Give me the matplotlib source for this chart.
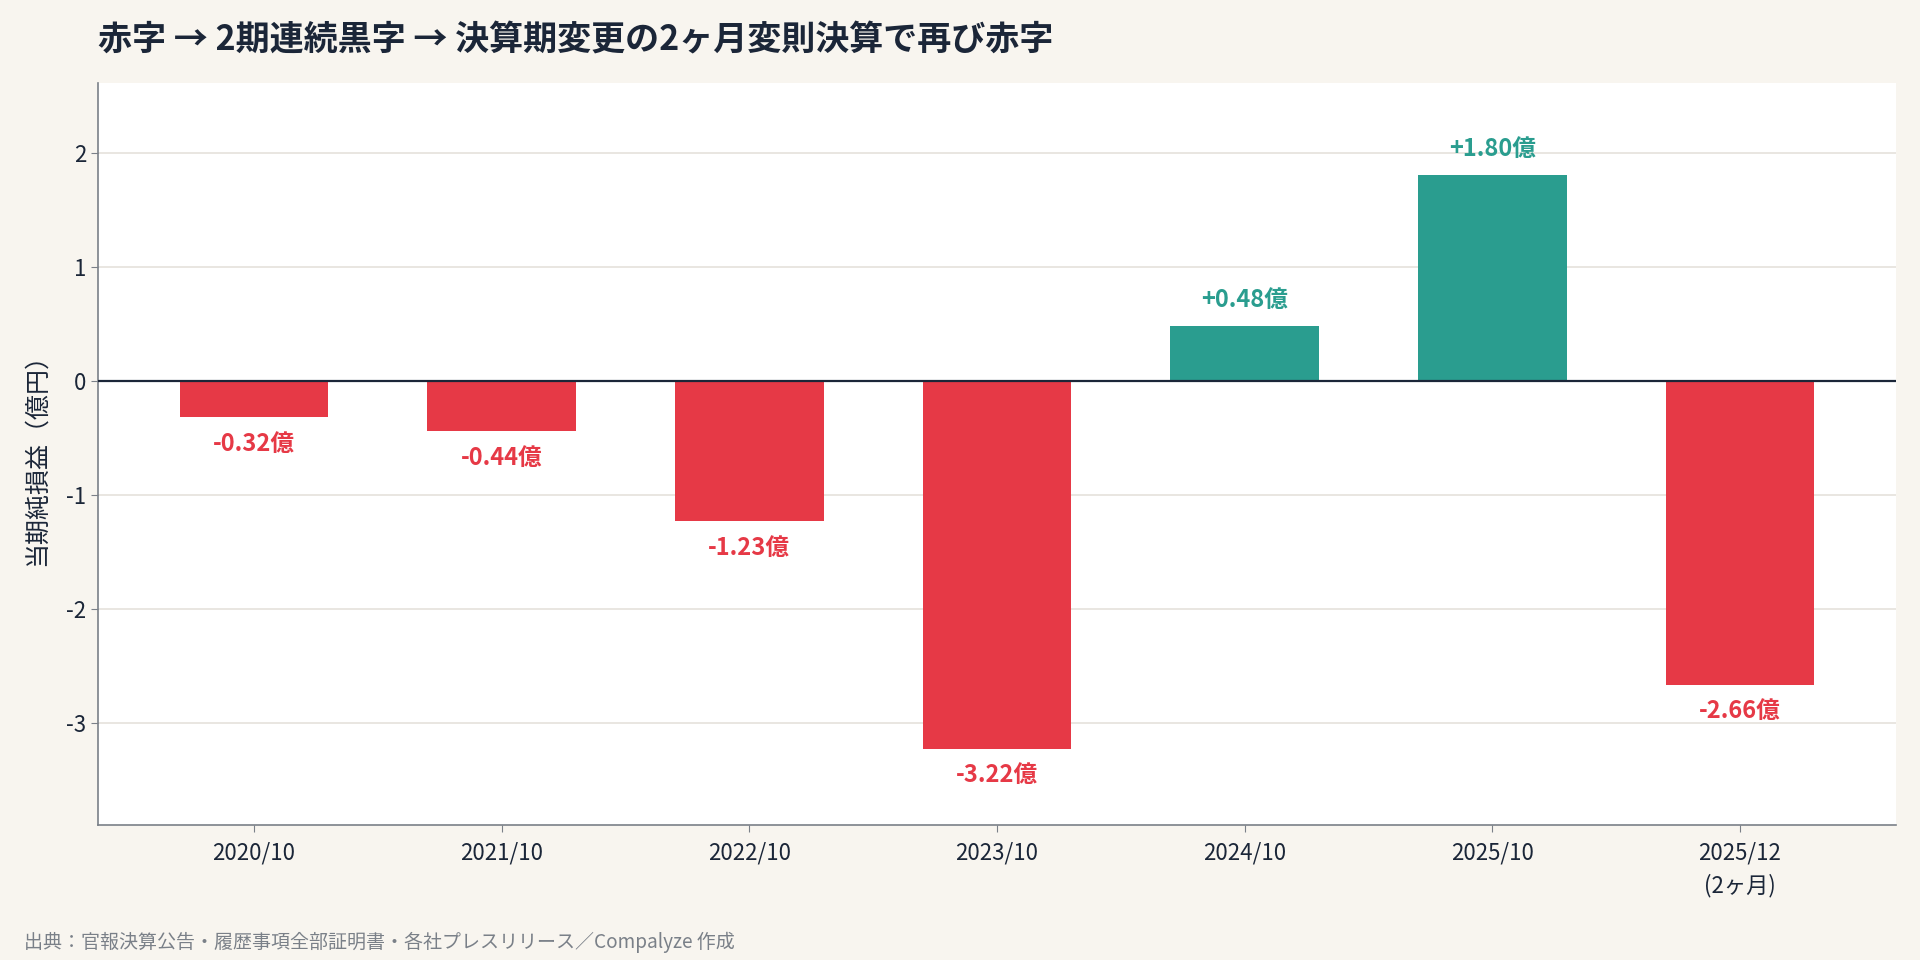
import matplotlib
matplotlib.use("Agg")
from matplotlib import pyplot as plt

plt.rcParams['font.family'] = ['Noto Sans CJK JP', 'DejaVu Sans']

periods = ['2020/10', '2021/10', '2022/10', '2023/10', '2024/10', '2025/10', '2025/12\n(2ヶ月)']
net_income = [-0.32, -0.44, -1.23, -3.22, 0.48, 1.80, -2.66]

RED = '#E63946'
TEAL = '#2A9D8F'
BG = '#F8F5EF'
INK = '#1B2638'

fig = plt.figure(figsize=(19.2, 9.6), dpi=100, facecolor=BG)
ax = fig.add_axes([98 / 1920, 1 - 825 / 960, (1896 - 98) / 1920, (825 - 83) / 960])
ax.set_facecolor('white')

colors = [TEAL if v >= 0 else RED for v in net_income]
x = list(range(len(periods)))
ax.bar(x, net_income, width=0.6, color=colors, zorder=3)

for xi, v, c in zip(x, net_income, colors):
    sign = '+' if v >= 0 else ''
    off = 19 if v >= 0 else -19
    ax.annotate(f'{sign}{v:.2f}億', (xi, v), xytext=(0, off), textcoords='offset points',
                ha='center', va='center', fontsize=17, fontweight='bold', color=c)

ax.axhline(0, color=INK, linewidth=1.6, zorder=4)
ax.set_ylim(-3.89, 2.61)
ax.set_xlim(-0.63, 6.63)
ax.set_yticks([-3, -2, -1, 0, 1, 2])
ax.set_yticklabels(['-3', '-2', '-1', '0', '1', '2'])
ax.set_xticks(x)
ax.set_xticklabels(periods, linespacing=1.5)
ax.yaxis.grid(True, color='#E5E2DC', linewidth=1.2, zorder=0)
ax.set_axisbelow(True)

for s in ['top', 'right']:
    ax.spines[s].set_visible(False)
for s in ['left', 'bottom']:
    ax.spines[s].set_color('#7A8088')
    ax.spines[s].set_linewidth(1.2)
ax.tick_params(colors='#7A8088', labelcolor=INK, labelsize=16, length=5)
ax.tick_params(axis='x', pad=7)

ax.set_ylabel('当期純損益（億円）', fontsize=18, color=INK, labelpad=12)

fig.text(98 / 1920, 1 - 40 / 960, '赤字 → 2期連続黒字 → 決算期変更の2ヶ月変則決算で再び赤字',
         fontsize=24.5, fontweight='bold', color=INK, va='center', ha='left')
fig.text(24 / 1920, 1 - 942 / 960, '出典：官報決算公告・履歴事項全部証明書・各社プレスリリース／Compalyze 作成',
         fontsize=13.7, color='#7A8088', va='center', ha='left')

fig.savefig('out.png', dpi=100, facecolor=BG)
